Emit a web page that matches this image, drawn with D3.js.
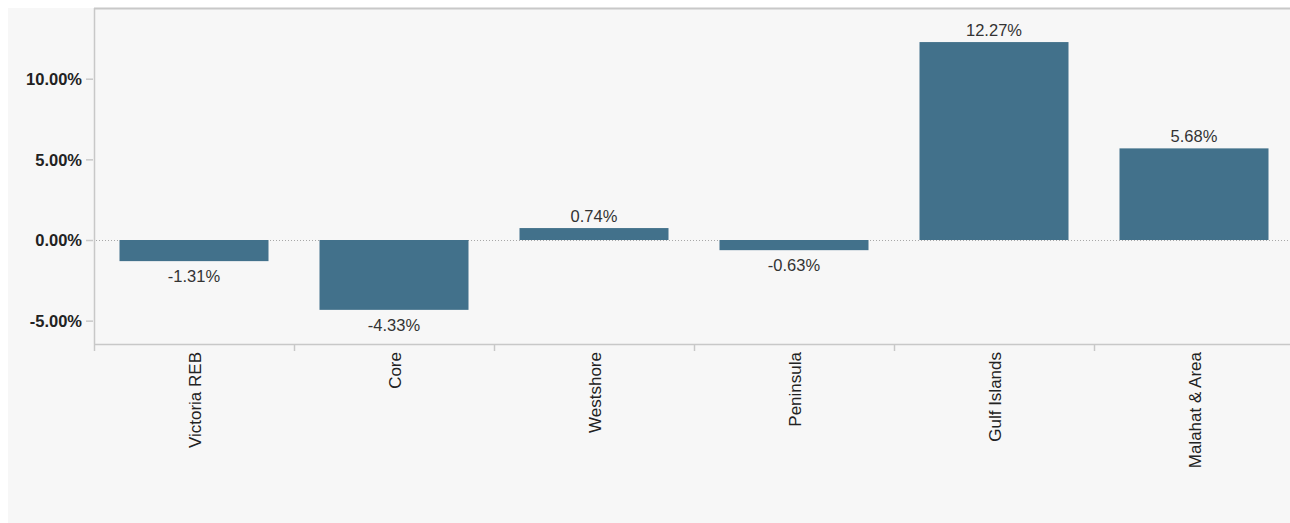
<!DOCTYPE html>
<html>
<head>
<meta charset="utf-8">
<script src="https://cdn.jsdelivr.net/npm/d3@7"></script>
<style>
  html, body { margin: 0; padding: 0; background: #fff; }
  svg { display: block; font-family: "Liberation Sans", Arial, sans-serif; }
</style>
</head>
<body>
<div id="chart"></div>
<script>
// data
const regions = ["Victoria REB", "Core", "Westshore", "Peninsula", "Gulf Islands", "Malahat & Area"];
const changes = [-1.31, -4.33, 0.74, -0.63, 12.27, 5.68];
const yTicks = [-5, 0, 5, 10];

const W = 1290, H = 523;
const margin = {top: 9, right: -4, bottom: 179, left: 94};
const fontSize = "16.5px";

// plain hyphen instead of unicode minus
const pct = d => (d < 0 ? "-" : "") + Math.abs(d).toFixed(2) + "%";

const svg = d3.select("#chart").append("svg")
    .attr("width", W)
    .attr("height", H);

// panel background
svg.append("rect")
    .attr("x", 8).attr("y", 8)
    .attr("width", W - 8).attr("height", H - 8)
    .attr("fill", "#f7f7f7");

const x0 = margin.left, x1 = W - margin.right;
const yTop = margin.top, yBot = H - margin.bottom;

const xCat = d3.scaleBand()
    .domain(regions)
    .range([x0, x1])
    .padding(0);

const xBar = d3.scaleBand()
    .domain(regions)
    .range([x0, x1])
    .paddingInner(0.255)
    .paddingOuter(0.1275);

const yScale = d3.scaleLinear()
    .domain([-6.447, 14.32])
    .range([yBot, yTop]);

const data = regions.map((r, i) => ({region: r, value: changes[i]}));

// frame lines
svg.append("line")
    .attr("x1", x0).attr("x2", W).attr("y1", yTop - 0.5).attr("y2", yTop - 0.5)
    .attr("stroke", "#c8c8c8").attr("stroke-width", 2);
svg.append("line")
    .attr("x1", x0 + 0.5).attr("x2", x0 + 0.5).attr("y1", yTop - 1).attr("y2", yBot)
    .attr("stroke", "#c8c8c8").attr("stroke-width", 1.5);
svg.append("line")
    .attr("x1", x0).attr("x2", W).attr("y1", yBot + 0.5).attr("y2", yBot + 0.5)
    .attr("stroke", "#c8c8c8").attr("stroke-width", 1.5);

// zero line
svg.append("line")
    .attr("x1", x0 + 2).attr("x2", W)
    .attr("y1", Math.round(yScale(0)) + 0.5).attr("y2", Math.round(yScale(0)) + 0.5)
    .attr("stroke", "#a8a8a8").attr("stroke-width", 1)
    .attr("stroke-dasharray", "1,2");

// y axis
const yAxis = d3.axisLeft(yScale)
    .tickValues(yTicks)
    .tickSize(7)
    .tickPadding(4)
    .tickFormat(pct);

const gy = svg.append("g")
    .attr("transform", "translate(" + (x0 - 1) + ",0)")
    .call(yAxis);
gy.select(".domain").remove();
gy.selectAll(".tick line").attr("stroke", "#c8c8c8").attr("stroke-width", 1.5);
gy.selectAll(".tick text")
    .attr("fill", "#222")
    .attr("dy", "0.36em")
    .style("font-size", fontSize)
    .style("font-weight", "bold")
    .style("font-family", "'Liberation Sans', Arial, sans-serif");

// category separators
svg.append("g").selectAll("line")
    .data(regions)
    .join("line")
    .attr("x1", d => xCat(d) + 0.5).attr("x2", d => xCat(d) + 0.5)
    .attr("y1", yBot).attr("y2", yBot + 7)
    .attr("stroke", "#c8c8c8").attr("stroke-width", 1.5);

// category labels
svg.append("g").selectAll("text")
    .data(regions)
    .join("text")
    .attr("transform", d => "translate(" + (xCat(d) + xCat.bandwidth() / 2 + 6.5) + "," + (yBot + 8) + ") rotate(-90)")
    .attr("text-anchor", "end")
    .attr("fill", "#222")
    .style("font-size", "17px")
    .text(d => d);

// bars
svg.append("g").selectAll("rect")
    .data(data)
    .join("rect")
    .attr("x", d => xBar(d.region))
    .attr("width", xBar.bandwidth())
    .attr("y", d => yScale(Math.max(0, d.value)))
    .attr("height", d => Math.abs(yScale(d.value) - yScale(0)))
    .attr("fill", "#42718b");

// value labels
svg.append("g").selectAll("text")
    .data(data)
    .join("text")
    .attr("x", d => xBar(d.region) + xBar.bandwidth() / 2)
    .attr("y", d => d.value >= 0 ? yScale(d.value) - 6 : yScale(d.value) + 21)
    .attr("text-anchor", "middle")
    .attr("fill", "#333")
    .style("font-size", fontSize)
    .text(d => pct(d.value));
</script>
</body>
</html>
